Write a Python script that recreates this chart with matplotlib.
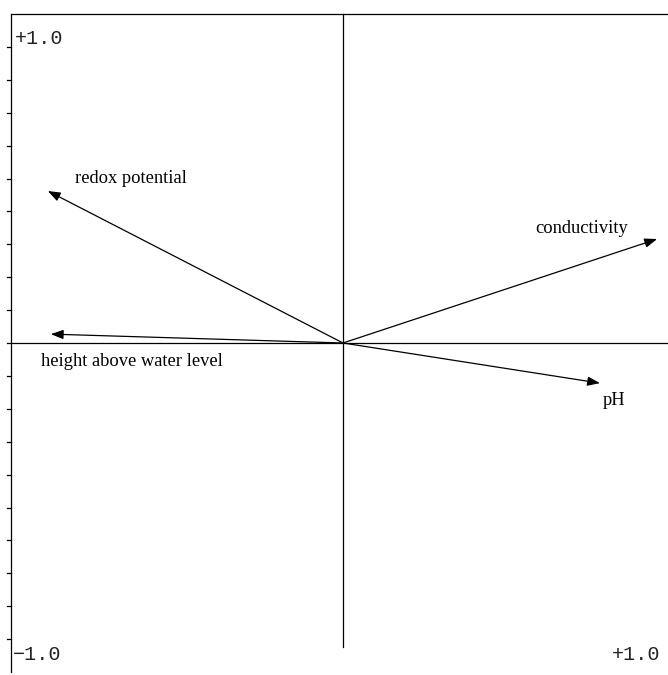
import matplotlib.pyplot as plt
from matplotlib.patches import FancyArrowPatch

# loadings of the environmental variables on the two ordination axes
variables = ['redox potential', 'conductivity', 'height above water level', 'pH']
axis1 = [-0.889, 0.946, -0.880, 0.774]
axis2 = [0.462, 0.316, 0.027, -0.122]

# where each variable name sits (left edge, baseline)
label_x = [-0.807, 0.578, -0.910, 0.783]
label_y = [0.486, 0.334, -0.070, -0.188]

fig = plt.figure(figsize=(6.68, 6.75), dpi=100)
ax = fig.add_axes([0, 0, 1, 1])
ax.set_xlim(-343 / 332, 325 / 332)
ax.set_ylim(-332 / 329, 343 / 329)
ax.axis('off')

lw = 0.9
right = 325 / 332
# frame: left scale bar, top line, and the two zero lines
ax.plot([-1, -1], [-1.0, 1.0], color='black', lw=lw)
ax.plot([-1, right], [1.0, 1.0], color='black', lw=lw)
ax.plot([-1, right], [0, 0], color='black', lw=lw)
ax.plot([0, 0], [-0.924, 1.0], color='black', lw=lw)

# ticks every 0.1 on the left bar
for i in range(-9, 10):
    ax.plot([-1.012, -1], [i / 10, i / 10], color='black', lw=lw)

mono = dict(family='Liberation Mono', fontsize=14.5, va='baseline', color='#222222')
ax.text(-0.988, 0.91, '+1.0', ha='left', **mono)
ax.text(-0.994, -0.963, '\u22121.0', ha='left', **mono)
ax.text(0.955, -0.963, '+1.0', ha='right', **mono)

for name, x, y, lx, ly in zip(variables, axis1, axis2, label_x, label_y):
    arrow = FancyArrowPatch((0, 0), (x, y),
                            arrowstyle='-|>,head_length=0.75,head_width=0.28',
                            mutation_scale=10, color='black', lw=0.9,
                            shrinkA=0, shrinkB=0)
    ax.add_patch(arrow)
    ax.text(lx, ly, name, family='Liberation Serif', fontsize=13.3,
            ha='left', va='baseline')

fig.savefig('out.png', dpi=100)
